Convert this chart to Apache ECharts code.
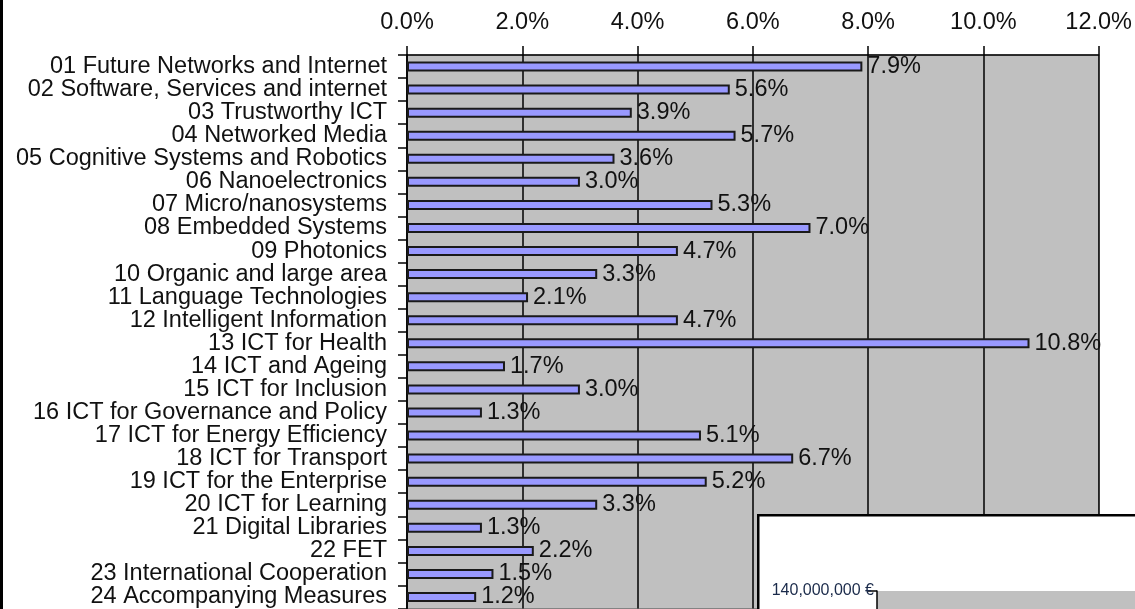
<!DOCTYPE html>
<html>
<head>
<meta charset="utf-8">
<title>ICT objectives share</title>
<script src="https://cdn.jsdelivr.net/npm/echarts@6/dist/echarts.min.js"></script>
<style>
  html, body { margin: 0; padding: 0; background: #fff; }
  #main { width: 1135px; height: 609px; }
</style>
</head>
<body>
<div id="main"></div>
<script>
const categories = [
  '01 Future Networks and Internet',
  '02 Software, Services and internet',
  '03 Trustworthy ICT',
  '04 Networked Media',
  '05 Cognitive Systems and Robotics',
  '06 Nanoelectronics',
  '07 Micro/nanosystems',
  '08 Embedded Systems',
  '09 Photonics',
  '10 Organic and large area',
  '11 Language Technologies',
  '12 Intelligent Information',
  '13 ICT for Health',
  '14 ICT and Ageing',
  '15 ICT for Inclusion',
  '16 ICT for Governance and Policy',
  '17 ICT for Energy Efficiency',
  '18 ICT for Transport',
  '19 ICT for the Enterprise',
  '20 ICT for Learning',
  '21 Digital Libraries',
  '22 FET',
  '23 International Cooperation',
  '24 Accompanying Measures'
]

// share of budget, percent
const shares = [7.9, 5.6, 3.9, 5.7, 3.6, 3.0, 5.3, 7.0, 4.7, 3.3, 2.1, 4.7, 10.8, 1.7, 3.0, 1.3, 5.1, 6.7, 5.2, 3.3, 1.3, 2.2, 1.5, 1.2]

// x axis ticks (percent)
const pctMin = 0
const pctMax = 12
const pctStep = 2

// inset chart (cut off at the bottom), only its top tick shows
const insetMin = 120000000
const insetMax = 140000000
const insetStep = 20000000

const FONT = '"Liberation Sans", Arial, sans-serif'
const TEXT = '#111'
const SIZE = 23.5

const chart = echarts.init(document.getElementById('main'))

chart.setOption({
  animation: false,
  backgroundColor: '#fff',
  grid: [
    { left: 407, top: 55, width: 695, bottom: 0, show: true, backgroundColor: '#c0c0c0', borderColor: '#808080', borderWidth: 1 },
    { left: 877, top: 591, right: 0, bottom: 0, show: true, backgroundColor: '#c0c0c0', borderWidth: 0, z: 10 }
  ],
  xAxis: [
    {
      gridIndex: 0,
      type: 'value',
      position: 'top',
      min: pctMin,
      max: pctMax,
      interval: pctStep,
      axisLine: { show: true, lineStyle: { color: '#000', width: 1.5 } },
      axisTick: { show: true, inside: false, length: 9, lineStyle: { color: '#000', width: 1.5 } },
      axisLabel: { margin: 20, color: TEXT, fontSize: SIZE, fontFamily: FONT, formatter: v => v.toFixed(1) + '%' },
      splitLine: { show: true, lineStyle: { color: '#000', width: 1.5 } }
    },
    {
      gridIndex: 1,
      type: 'category',
      data: [],
      show: false
    }
  ],
  yAxis: [
    {
      gridIndex: 0,
      type: 'category',
      inverse: true,
      data: categories,
      axisLine: { show: true, lineStyle: { color: '#000', width: 1.5 } },
      axisTick: { show: true, length: 9, lineStyle: { color: '#000', width: 1.5 } },
      axisLabel: { margin: 20, color: TEXT, fontSize: SIZE, fontFamily: FONT, interval: 0 }
    },
    {
      gridIndex: 1,
      type: 'value',
      min: insetMin,
      max: insetMax,
      interval: insetStep,
      z: 11,
      axisLine: { show: true, lineStyle: { color: '#000', width: 1.5 } },
      axisTick: { show: true, length: 9, lineStyle: { color: '#000', width: 1.5 } },
      axisLabel: { margin: 3, showMinLabel: false, color: '#1a2a4a', fontSize: 16, fontFamily: FONT, formatter: v => v.toLocaleString('en-US') + ' €' },
      splitLine: { show: false }
    }
  ],
  graphic: [
    { type: 'rect', left: 0, top: 0, shape: { width: 3, height: 609 }, style: { fill: '#000' }, z: 100 },
    { type: 'rect', left: 757, top: 514, shape: { width: 400, height: 120 }, style: { fill: '#fff', stroke: '#000', lineWidth: 2.5 }, z: 5 }
  ],
  series: [
    {
      type: 'bar',
      xAxisIndex: 0,
      yAxisIndex: 0,
      data: shares,
      barWidth: 10,
      itemStyle: { color: '#9999ff', borderColor: '#1a1a1a', borderWidth: 2 },
      label: {
        show: true,
        position: 'right',
        distance: 5,
        color: TEXT,
        fontSize: SIZE,
        fontFamily: FONT,
        formatter: p => p.value.toFixed(1) + '%'
      }
    },
    {
      type: 'bar',
      xAxisIndex: 1,
      yAxisIndex: 1,
      data: []
    }
  ]
})
</script>
</body>
</html>
